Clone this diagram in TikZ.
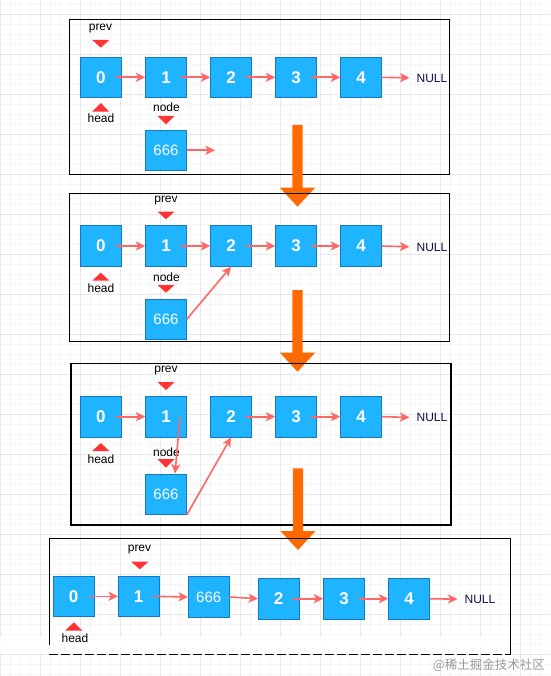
\documentclass[tikz,border=0pt]{standalone}
\usepackage{fontspec}
\setmainfont{Liberation Sans}
\newfontfamily\cjkfont{Noto Sans CJK SC}
\usetikzlibrary{arrows.meta}
\definecolor{nodefill}{RGB}{30,180,255}
\definecolor{nodeborder}{RGB}{22,120,190}
\definecolor{linkred}{RGB}{255,102,102}
\definecolor{trired}{RGB}{255,51,51}
\definecolor{bigorange}{RGB}{255,106,0}
\definecolor{nullcol}{RGB}{25,10,70}
\definecolor{gridminor}{RGB}{246,246,246}
\definecolor{gridmajor}{RGB}{232,232,232}
\tikzset{
  lnode/.style={rectangle, draw=nodeborder, fill=nodefill, line width=0.9pt,
    minimum width=40.5pt, minimum height=40.5pt, inner sep=0pt, text=white,
    font=\bfseries\fontsize{17}{17}\selectfont},
  valnode/.style={lnode, font=\fontsize{15}{15}\selectfont},
  lbl/.style={inner sep=0pt, font=\fontsize{12}{12}\selectfont},
  nulltxt/.style={lbl, text=nullcol},
  link/.style={draw=linkred, line width=1.6pt, -{Stealth[length=9.5pt,width=9pt,inset=2.5pt]}},
  panelbox/.style={draw=black, line width=1.2pt},
  tri/.style={fill=trired}
}
\newcommand\downtri[3]{\fill[tri] (#1-8.5,#2) -- (#1+8.5,#2) -- (#1,#3) -- cycle;}
\newcommand\uptri[3]{\fill[tri] (#1-8.5,#3) -- (#1+8.5,#3) -- (#1,#2) -- cycle;}
\newcommand\bigdownarrow[4]{% x, top, headtop, tip
  \fill[bigorange] (#1-5.2,#2) -- (#1+5.2,#2) -- (#1+5.2,#3) -- (#1+17.6,#3)
    -- (#1,#4) -- (#1-17.6,#3) -- (#1-5.2,#3) -- cycle;}
\begin{document}
\begin{tikzpicture}[x=1pt,y=-1pt]
\useasboundingbox (0,0) rectangle (550,676);
\fill[white] (0,0) rectangle (550,676);
% grid
\foreach \x in {0.7,10.7,...,550} \draw[gridminor, line width=0.6pt] (\x,0) -- (\x,676);
\foreach \y in {4,14,...,676} \draw[gridminor, line width=0.6pt] (0,\y) -- (550,\y);
\foreach \x in {0.7,40.7,...,550} \draw[gridmajor, line width=0.8pt] (\x,0) -- (\x,676);
\foreach \y in {14,54,...,676} \draw[gridmajor, line width=0.8pt] (0,\y) -- (550,\y);

% ---------------- panel 1 ----------------
\draw[panelbox] (69.3,19.3) rectangle (449.3,174.3);
\node[lnode] (a0) at (100.8,77.3) {0};
\node[lnode] (a1) at (166,77.3) {1};
\node[lnode] (a2) at (231,77.3) {2};
\node[lnode] (a3) at (296,77.3) {3};
\node[lnode] (a4) at (361,77.3) {4};
\node[nulltxt] (anull) at (432,78) {NULL};
\node[valnode] (a6) at (166,150.3) {666};
\coordinate (afree) at (215,150.3);
\node[lbl] (aprev) at (100.5,28.5) {prev};
\node[lbl] (ahead) at (101,118.5) {head};
\node[lbl] (anode) at (166.5,107.7) {node};
\downtri{100.8}{40}{47.7}
\uptri{100.8}{103}{111.7}
\downtri{166}{116}{124.3}
\draw[link] ([xshift=-6pt]a0.east) -- (a1.west);
\draw[link] ([xshift=-6pt]a1.east) -- (a2.west);
\draw[link] ([xshift=-6pt]a2.east) -- (a3.west);
\draw[link] ([xshift=-6pt]a3.east) -- (a4.west);
\draw[link, shorten >=7pt] (a4.east) -- (anull.west);
\draw[link] (a6.east) -- (afree);

\bigdownarrow{297.5}{125}{187.7}{206.7}

% ---------------- panel 2 ----------------
\draw[panelbox] (69.3,193.3) rectangle (449.3,341.7);
\node[lnode] (b0) at (100.8,246) {0};
\node[lnode] (b1) at (166,246) {1};
\node[lnode] (b2) at (231,246) {2};
\node[lnode] (b3) at (296,246) {3};
\node[lnode] (b4) at (361,246) {4};
\node[nulltxt] (bnull) at (432,247) {NULL};
\node[valnode] (b6) at (166,319.3) {666};
\node[lbl] (bprev) at (166,200.5) {prev};
\node[lbl] (bhead) at (101,288) {head};
\node[lbl] (bnode) at (166.5,277) {node};
\downtri{166}{211.7}{219.3}
\uptri{100.8}{272.7}{280.7}
\downtri{166}{285}{292.7}
\draw[link] ([xshift=-6pt]b0.east) -- (b1.west);
\draw[link] ([xshift=-6pt]b1.east) -- (b2.west);
\draw[link] ([xshift=-6pt]b2.east) -- (b3.west);
\draw[link] ([xshift=-6pt]b3.east) -- (b4.west);
\draw[link, shorten >=7pt] (b4.east) -- (bnull.west);
\draw[link] (b6.east) -- (b2.south);

\bigdownarrow{297.5}{290}{352.7}{371.7}

% ---------------- panel 3 ----------------
\draw[panelbox] (71,363.3) rectangle (451,525);
\node[lnode] (c0) at (100.8,416.7) {0};
\node[lnode] (c1) at (166,416.7) {1};
\node[lnode] (c2) at (231,416.7) {2};
\node[lnode] (c3) at (296,416.7) {3};
\node[lnode] (c4) at (361,416.7) {4};
\node[nulltxt] (cnull) at (432,417.5) {NULL};
\node[valnode] (c6) at (166,494.3) {666};
\node[lbl] (cprev) at (166,370.5) {prev};
\node[lbl] (chead) at (101,459.5) {head};
\node[lbl] (cnode) at (166.5,452) {node};
\downtri{166}{382}{390}
\uptri{100.8}{443}{451}
\downtri{166}{459}{467.7}
\draw[link] ([xshift=-6pt]c0.east) -- (c1.west);
\draw[link] ([xshift=-6pt]c2.east) -- (c3.west);
\draw[link] ([xshift=-6pt]c3.east) -- (c4.west);
\draw[link, shorten >=7pt] (c4.east) -- (cnull.west);
\draw[link] ([xshift=14pt]c1.center) -- ([xshift=9pt]c6.north);
\draw[link] (c6.south east) -- (c2.south);

\bigdownarrow{298}{468.3}{531}{550}

% ---------------- panel 4 ----------------
\fill[white, opacity=0.9] (0,637) rectangle (508,653);
\draw[panelbox] (49.3,645) -- (49.3,538.3) -- (510.7,538.3) -- (510.7,654.3);
\draw[panelbox, dash pattern=on 9pt off 3pt] (49.3,654.3) -- (510.7,654.3);
\node[lnode] (d0) at (73.7,596.3) {0};
\node[lnode] (d1) at (138.7,596.3) {1};
\node[valnode] (d6) at (208.7,597) {666};
\node[lnode] (d2) at (278.7,598.7) {2};
\node[lnode] (d3) at (344,598.7) {3};
\node[lnode] (d4) at (409,598.7) {4};
\node[nulltxt] (dnull) at (480,599.3) {NULL};
\node[lbl] (dprev) at (139.5,550) {prev};
\node[lbl] (dhead) at (75,638) {head};
\downtri{139.8}{561.7}{569.3}
\uptri{73.8}{622.3}{630.5}
\draw[link] ([xshift=-6pt]d0.east) -- (d1.west);
\draw[link] ([xshift=-6pt]d1.east) -- (d6.west);
\draw[link] (d6.east) -- (d2.west);
\draw[link] ([xshift=-6pt]d2.east) -- (d3.west);
\draw[link] ([xshift=-6pt]d3.east) -- (d4.west);
\draw[link, shorten >=7pt] (d4.east) -- (dnull.west);

% watermark
\node[inner sep=0pt, anchor=east, text=black!40, font=\cjkfont\fontsize{12.5}{12.5}\selectfont] (wm) at (545,665) {@稀土掘金技术社区};
\end{tikzpicture}
\end{document}
